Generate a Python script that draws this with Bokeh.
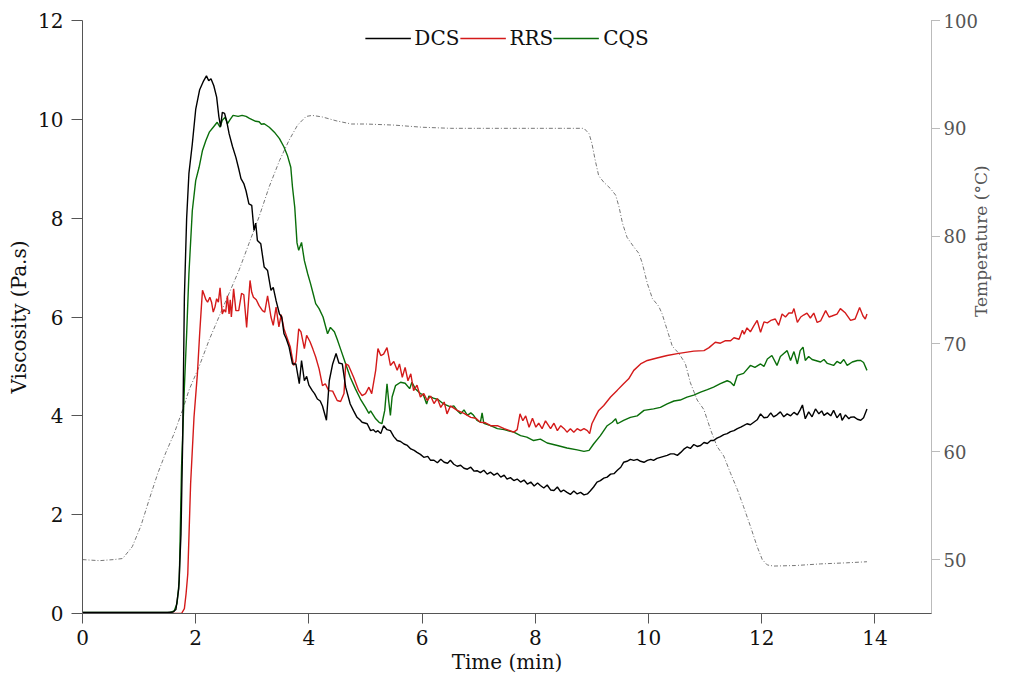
from bokeh.plotting import figure
from bokeh.models import Range1d, LinearAxis, Legend, LegendItem, FixedTicker
from bokeh.embed import file_html
from bokeh.resources import INLINE
import math

# ---------------- data ----------------
dcs_t = [0, 0.5, 1.0, 1.5, 1.6, 1.65, 1.70, 1.74, 1.77, 1.80, 1.84, 1.88, 1.94, 2.00, 2.07, 2.14, 2.19, 2.23, 2.27, 2.32,
         2.37, 2.41, 2.44, 2.47, 2.51, 2.55, 2.59, 2.65, 2.71, 2.76, 2.80, 2.85, 2.89, 2.94, 2.99, 3.03, 3.06, 3.09, 3.15,
         3.21, 3.27, 3.33, 3.37, 3.42, 3.48, 3.52, 3.56, 3.60, 3.65, 3.71, 3.77, 3.83, 3.87, 3.92, 3.96, 4.00, 4.06, 4.10,
         4.15, 4.20, 4.24, 4.31, 4.36, 4.42, 4.48, 4.53, 4.59, 4.65, 4.73, 4.79, 4.85, 4.90, 4.94, 5.03, 5.09, 5.14, 5.18,
         5.22, 5.27, 5.32, 5.38, 5.44, 5.50, 5.56, 5.62, 5.68, 5.74, 5.80, 5.86, 5.91, 5.97, 6.03, 6.10, 6.15, 6.21, 6.27,
         6.33, 6.39, 6.45, 6.50, 6.56, 6.62, 6.68, 6.74, 6.80, 6.86, 6.92, 6.97, 7.03, 7.09, 7.15, 7.21, 7.27, 7.33, 7.39,
         7.45, 7.50, 7.56, 7.62, 7.68, 7.74, 7.80, 7.86, 7.92, 7.98, 8.04, 8.09, 8.15, 8.21, 8.27, 8.33, 8.39, 8.45, 8.50,
         8.56, 8.62, 8.68, 8.74, 8.80, 8.86, 8.92, 8.97, 9.03, 9.09, 9.15, 9.21, 9.27, 9.33, 9.39, 9.45, 9.51, 9.56, 9.62,
         9.68, 9.74, 9.80, 9.86, 9.92, 9.98, 10.04, 10.09, 10.15, 10.21, 10.27, 10.33, 10.39, 10.45, 10.51, 10.57, 10.62,
         10.68, 10.74, 10.80, 10.86, 10.92, 10.98, 11.04, 11.10, 11.15, 11.21, 11.27, 11.33, 11.39, 11.45, 11.51, 11.57,
         11.63, 11.68, 11.74, 11.80, 11.86, 11.92, 11.98, 12.04, 12.10, 12.16, 12.21, 12.27, 12.33, 12.39, 12.45, 12.51,
         12.57, 12.63, 12.68, 12.72, 12.77, 12.83, 12.89, 12.95, 13.01, 13.06, 13.10, 13.16, 13.22, 13.27, 13.33, 13.39,
         13.42, 13.48, 13.54, 13.57, 13.63, 13.69, 13.75, 13.80, 13.86]
dcs_v = [0.02, 0.02, 0.02, 0.02, 0.03, 0.08, 0.5, 1.6, 3.5, 6.4, 8.0, 8.9, 9.5, 10.2, 10.6, 10.78, 10.88, 10.78, 10.82, 10.68,
         10.45, 10.05, 9.85, 10.14, 10.12, 9.95, 9.71, 9.45, 9.23, 9.0, 8.80, 8.70, 8.55, 8.29, 8.26, 7.75, 7.90, 7.55, 7.48,
         7.01, 6.94, 6.54, 6.60, 6.33, 6.06, 6.0, 5.66, 5.56, 5.39, 5.05, 5.05, 4.65, 5.12, 4.71, 4.80, 4.62, 4.51, 4.45,
         4.34, 4.30, 4.20, 3.91, 4.71, 5.05, 5.26, 5.07, 5.05, 4.58, 4.24, 4.10, 3.97, 3.92, 3.87, 3.84, 3.70, 3.72, 3.67,
         3.70, 3.64, 3.80, 3.72, 3.70, 3.58, 3.50, 3.48, 3.43, 3.40, 3.33, 3.30, 3.26, 3.22, 3.16, 3.18, 3.10, 3.10, 3.05,
         3.12, 3.06, 3.04, 3.10, 3.02, 2.98, 3.00, 2.94, 2.92, 2.96, 2.88, 2.89, 2.85, 2.90, 2.82, 2.86, 2.80, 2.84, 2.76,
         2.80, 2.72, 2.75, 2.69, 2.72, 2.66, 2.70, 2.62, 2.66, 2.58, 2.64, 2.59, 2.54, 2.60, 2.50, 2.49, 2.56, 2.46, 2.50,
         2.45, 2.41, 2.48, 2.42, 2.45, 2.40, 2.42, 2.48, 2.56, 2.66, 2.69, 2.74, 2.76, 2.82, 2.83, 2.90, 2.96, 3.06, 3.08,
         3.12, 3.10, 3.12, 3.08, 3.06, 3.10, 3.12, 3.10, 3.14, 3.16, 3.18, 3.20, 3.23, 3.23, 3.20, 3.26, 3.32,
         3.37, 3.34, 3.42, 3.38, 3.40, 3.46, 3.44, 3.50, 3.50, 3.55, 3.58, 3.62, 3.64, 3.68, 3.70, 3.74,
         3.77, 3.80, 3.84, 3.82, 3.87, 3.92, 4.04, 3.96, 3.97, 4.06, 3.98, 4.02, 4.08, 3.98, 4.04, 4.00,
         4.07, 4.02, 4.12, 4.22, 3.94, 4.08, 3.98, 4.14, 4.04, 4.10, 4.01, 4.06, 4.00, 4.11, 3.96, 4.05,
         3.91, 4.02, 3.94, 3.97, 3.98, 3.93, 3.91, 3.96, 4.14]

rrs_t = [0, 1.0, 1.5, 1.75, 1.80, 1.83, 1.86, 1.91, 1.97, 2.03, 2.07, 2.10, 2.12, 2.15, 2.18, 2.21, 2.25, 2.28, 2.31, 2.34,
         2.37, 2.40, 2.43, 2.47, 2.50, 2.53, 2.56, 2.59, 2.61, 2.63, 2.67, 2.71, 2.76, 2.81, 2.85, 2.90, 2.96, 2.99, 3.02,
         3.07, 3.12, 3.18, 3.22, 3.27, 3.33, 3.37, 3.42, 3.47, 3.51, 3.56, 3.62, 3.67, 3.73, 3.77, 3.82, 3.86, 3.92, 3.96,
         4.02, 4.07, 4.12, 4.18, 4.24, 4.29, 4.35, 4.42, 4.50, 4.56, 4.62, 4.65, 4.70, 4.79, 4.88, 4.94, 5.00, 5.06, 5.11,
         5.18, 5.22, 5.27, 5.32, 5.38, 5.44, 5.50, 5.56, 5.60, 5.65, 5.70, 5.75, 5.80, 5.85, 5.91, 5.97, 6.03, 6.09, 6.15,
         6.21, 6.27, 6.33, 6.39, 6.44, 6.50, 6.62, 6.74, 6.86, 6.95, 7.03, 7.12, 7.21, 7.33, 7.45, 7.55, 7.62, 7.68, 7.73,
         7.78, 7.83, 7.89, 7.95, 8.01, 8.06, 8.12, 8.18, 8.27, 8.33, 8.39, 8.45, 8.51, 8.56, 8.62, 8.68, 8.74, 8.80, 8.86,
         8.92, 8.96, 9.00, 9.06, 9.12, 9.21, 9.33, 9.45, 9.56, 9.65, 9.74, 9.86, 9.98, 10.15, 10.33, 10.51, 10.80, 10.98,
         11.07, 11.18, 11.27, 11.36, 11.45, 11.51, 11.60, 11.66, 11.69, 11.74, 11.80, 11.86, 11.92, 11.98, 12.04, 12.10,
         12.16, 12.24, 12.30, 12.36, 12.42, 12.48, 12.54, 12.57, 12.63, 12.69, 12.74, 12.80, 12.86, 12.92, 12.98, 13.04,
         13.13, 13.19, 13.24, 13.33, 13.39, 13.48, 13.57, 13.65, 13.73, 13.79, 13.83, 13.86]
rrs_v = [0.0, 0.0, 0.0, 0.0, 0.1, 0.4, 0.8, 2.62, 3.97, 4.85, 5.66, 6.2, 6.54, 6.45, 6.35, 6.30, 6.40, 6.3, 6.10, 6.2,
         6.37, 6.3, 6.59, 6.06, 6.15, 6.1, 6.43, 6.06, 6.35, 6.0, 6.57, 6.13, 6.13, 6.48, 6.45, 5.79, 6.74, 6.5, 6.40,
         6.35, 6.23, 6.13, 6.1, 6.43, 6.0, 5.83, 6.20, 5.80, 6.05, 5.76, 5.56, 5.40, 5.02, 5.10, 5.76, 5.70, 5.36, 5.63,
         5.50, 5.35, 5.19, 4.95, 4.61, 4.65, 4.51, 4.50, 4.31, 4.29, 4.45, 5.05, 5.02, 4.78, 4.51, 4.41, 4.45, 4.58, 4.45,
         4.92, 5.36, 5.22, 5.25, 5.38, 5.02, 5.10, 4.92, 5.05, 4.78, 4.98, 4.71, 4.85, 4.51, 4.62, 4.38, 4.45, 4.31, 4.40,
         4.25, 4.35, 4.17, 4.28, 4.04, 4.20, 4.11, 4.05, 3.97, 3.95, 3.87, 3.86, 3.80, 3.80, 3.74, 3.70, 3.67, 3.72, 4.04,
         3.90, 4.00, 3.77, 3.95, 3.77, 3.85, 3.74, 3.90, 3.74, 3.85, 3.70, 3.80, 3.74, 3.67, 3.74, 3.67, 3.74, 3.70, 3.74,
         3.70, 3.64, 3.84, 3.98, 4.11, 4.21, 4.38, 4.52, 4.65, 4.75, 4.92, 5.05, 5.12, 5.17, 5.22, 5.26, 5.31, 5.32,
         5.38, 5.49, 5.47, 5.52, 5.52, 5.58, 5.55, 5.73, 5.65, 5.78, 5.70, 5.82, 5.93, 5.69, 5.90, 5.88,
         5.93, 5.96, 5.83, 6.06, 6.0, 6.08, 6.08, 6.17, 5.89, 6.0, 6.04, 6.08, 5.98, 6.08, 5.89, 5.92,
         6.13, 6.0, 6.02, 6.06, 6.17, 6.08, 5.93, 5.96, 6.19, 6.02, 5.96, 6.06]

cqs_t = [0, 1.0, 1.55, 1.62, 1.67, 1.71, 1.75, 1.80, 1.84, 1.88, 1.94, 2.00, 2.06, 2.12, 2.18, 2.24, 2.31, 2.38, 2.43, 2.47,
         2.52, 2.56, 2.61, 2.66, 2.75, 2.82, 2.89, 2.95, 3.06, 3.12, 3.16, 3.21, 3.30, 3.39, 3.48, 3.56, 3.62, 3.68, 3.71,
         3.75, 3.79, 3.82, 3.87, 3.92, 3.98, 4.03, 4.08, 4.12, 4.18, 4.25, 4.33, 4.38, 4.45, 4.50, 4.56, 4.65, 4.73, 4.82,
         4.91, 5.00, 5.06, 5.09, 5.18, 5.24, 5.29, 5.34, 5.38, 5.41, 5.44, 5.47, 5.53, 5.62, 5.70, 5.78, 5.82, 5.88, 5.97,
         6.02, 6.08, 6.12, 6.20, 6.28, 6.38, 6.44, 6.50, 6.56, 6.62, 6.68, 6.74, 6.80, 6.86, 6.91, 6.97, 7.03, 7.06, 7.09,
         7.21, 7.33, 7.45, 7.62, 7.74, 7.85, 7.97, 8.09, 8.21, 8.39, 8.56, 8.74, 8.86, 8.95, 9.03, 9.15, 9.27, 9.36, 9.42,
         9.45, 9.56, 9.68, 9.80, 9.92, 10.09, 10.21, 10.33, 10.45, 10.56, 10.68, 10.80, 10.92, 11.04, 11.15, 11.27, 11.39,
         11.45, 11.51, 11.57, 11.68, 11.80, 11.88, 11.98, 12.04, 12.10, 12.18, 12.27, 12.33, 12.39, 12.45, 12.51, 12.57,
         12.63, 12.68, 12.73, 12.77, 12.83, 12.89, 12.95, 13.04, 13.10, 13.16, 13.27, 13.33, 13.39, 13.45, 13.51, 13.60,
         13.69, 13.75, 13.80, 13.86]
cqs_v = [0.02, 0.02, 0.02, 0.05, 0.2, 0.67, 2.96, 4.58, 5.66, 6.87, 8.15, 8.76, 9.03, 9.37, 9.57, 9.74, 9.84, 9.94, 9.84, 9.98,
         10.04, 9.91, 10.0, 10.08, 10.06, 10.08, 10.06, 10.02, 9.96, 9.95, 9.90, 9.91, 9.84, 9.74, 9.61, 9.44, 9.27, 9.03, 8.63,
         8.22, 7.50, 7.35, 7.51, 7.14, 6.87, 6.67, 6.45, 6.27, 6.17, 6.0, 5.66, 5.79, 5.70, 5.55, 5.35, 5.05, 4.78, 4.55,
         4.34, 4.17, 4.05, 4.10, 3.94, 3.87, 3.84, 4.11, 4.65, 4.30, 4.01, 4.38, 4.61, 4.68, 4.66, 4.55, 4.68, 4.55, 4.45,
         4.43, 4.24, 4.40, 4.36, 4.33, 4.24, 4.21, 4.18, 4.20, 4.11, 4.04, 4.12, 4.01, 4.06, 4.01, 3.91, 3.87, 4.06, 3.85,
         3.80, 3.74, 3.72, 3.67, 3.60, 3.57, 3.50, 3.53, 3.45, 3.40, 3.35, 3.31, 3.28, 3.30, 3.43, 3.60, 3.80, 3.87, 3.94,
         3.84, 3.91, 3.97, 4.00, 4.11, 4.14, 4.17, 4.24, 4.30, 4.32, 4.38, 4.42, 4.48, 4.53, 4.58, 4.65, 4.71,
         4.68, 4.61, 4.82, 4.86, 5.02, 4.98, 5.05, 5.00, 5.15, 5.22, 5.02, 5.20, 5.26, 5.32, 5.12, 5.30,
         5.05, 5.32, 5.39, 5.12, 5.20, 5.14, 5.12, 5.09, 5.14, 5.06, 5.02, 5.10, 5.06, 5.14, 5.02, 5.09,
         5.12, 5.12, 5.08, 4.92]

temp_t = [0, 0.3, 0.55, 0.71, 0.88, 1.03, 1.18, 1.33, 1.47, 1.62, 1.77, 1.88, 2.06, 2.24, 2.41, 2.59, 2.77, 2.94, 3.12,
          3.30, 3.48, 3.65, 3.80, 3.95, 4.06, 4.24, 4.48, 4.75, 5.0, 5.5, 6.0, 6.5, 7.0, 7.5, 8.0, 8.45, 8.86, 8.95, 9.0,
          9.06, 9.12, 9.21, 9.33, 9.42, 9.48, 9.54, 9.62, 9.74, 9.83, 9.89, 9.98, 10.07, 10.18, 10.24, 10.33, 10.42,
          10.54, 10.65, 10.74, 10.86, 10.98, 11.10, 11.21, 11.33, 11.45, 11.57, 11.68, 11.80, 11.92, 12.01, 12.10,
          12.21, 12.6, 13.04, 13.5, 13.86]
temp_v = [50.0, 49.9, 50.0, 50.1, 51.2, 53.1, 55.6, 58.0, 59.9, 61.7, 63.9, 65.7, 67.9, 70.4, 72.5, 74.7, 76.9, 79.3, 81.8,
          84.6, 87.0, 88.9, 90.3, 91.1, 91.2, 91.05, 90.7, 90.4, 90.4, 90.3, 90.1, 90.0, 90.0, 90.0, 90.0, 90.0, 90.0, 89.5,
          88.6, 87.0, 85.6, 85.0, 84.4, 83.8, 82.7, 81.2, 79.9, 79.0, 78.4, 77.5, 75.6, 74.2, 73.5, 72.8, 71.3, 69.8,
          69.1, 68.2, 66.4, 64.8, 63.9, 62.0, 60.5, 59.6, 58.0, 56.5, 54.9, 53.1, 51.2, 50.0, 49.5,
          49.4, 49.45, 49.6, 49.7, 49.8]

x_ticks = [0, 2, 4, 6, 8, 10, 12, 14]
y_ticks = [0, 2, 4, 6, 8, 10, 12]
t_ticks = [50, 60, 70, 80, 90, 100]

FONT = "DejaVu Serif"
FS = "20px"
AXIS_COL = "#555555"

p = figure(width=1003, height=680, output_backend="svg", toolbar_location=None,
           x_range=Range1d(0, 15), y_range=Range1d(0, 12),
           min_border_left=82, min_border_right=72, min_border_top=20, min_border_bottom=67)
p.outline_line_color = None
p.xgrid.visible = False
p.ygrid.visible = False
p.extra_y_ranges = {"temp": Range1d(45, 100)}

for ax in (p.xaxis[0], p.yaxis[0]):
    ax.axis_line_color = AXIS_COL
    ax.major_tick_line_color = AXIS_COL
    ax.minor_tick_line_color = None
    ax.major_tick_in = 0
    ax.major_label_text_font = FONT
    ax.major_label_text_font_size = FS
    ax.major_label_text_color = "#111111"
    ax.axis_label_text_font = FONT
    ax.axis_label_text_font_size = FS
    ax.axis_label_text_font_style = "normal"
    ax.axis_label_text_color = "#111111"

p.xaxis.ticker = FixedTicker(ticks=x_ticks)
p.xaxis.axis_label = "Time (min)"
p.xaxis.major_tick_out = 10
p.xaxis.major_label_standoff = 6
p.xaxis.axis_label_standoff = 2

p.yaxis.ticker = FixedTicker(ticks=y_ticks)
p.yaxis.axis_label = "Viscosity (Pa.s)"
p.yaxis.major_tick_out = 11
p.yaxis.major_label_standoff = 8
p.yaxis.axis_label_standoff = 4

rax = LinearAxis(y_range_name="temp", ticker=FixedTicker(ticks=t_ticks), axis_label="Temperature (°C)")
rax.axis_line_color = "#777777"
rax.axis_line_dash = "1 1"
rax.major_tick_line_color = "#777777"
rax.major_tick_line_dash = "1 1"
rax.minor_tick_line_color = None
rax.major_tick_in = 0
rax.major_tick_out = 8
rax.major_label_standoff = 4
rax.major_label_text_font = FONT
rax.major_label_text_font_size = "18px"
rax.major_label_text_color = "#555555"
rax.axis_label_text_font = FONT
rax.axis_label_text_font_size = "17px"
rax.axis_label_text_font_style = "normal"
rax.axis_label_text_color = "#555555"
rax.axis_label_standoff = 0
rax.axis_label_orientation = math.pi / 2
p.add_layout(rax, "right")

r_temp = p.line(temp_t, temp_v, y_range_name="temp", line_color="#777777", line_width=1, line_dash="4 2 1 2")
r_cqs = p.line(cqs_t, cqs_v, line_color="#0a6e0a", line_width=1.4)
r_rrs = p.line(rrs_t, rrs_v, line_color="#d41a1a", line_width=1.4)
r_dcs = p.line(dcs_t, dcs_v, line_color="#000000", line_width=1.4)

legend = Legend(items=[LegendItem(label="DCS", renderers=[r_dcs]),
                       LegendItem(label="RRS", renderers=[r_rrs]),
                       LegendItem(label="CQS", renderers=[r_cqs])],
                location="top_center", orientation="horizontal")
legend.border_line_color = None
legend.background_fill_alpha = 0
legend.label_text_font = FONT
legend.label_text_font_size = FS
legend.label_text_color = "#111111"
legend.glyph_width = 46
legend.label_standoff = 4
legend.spacing = 0
legend.padding = 0
legend.margin = 6
p.add_layout(legend)

open("out.html", "w").write(file_html(p, INLINE))
